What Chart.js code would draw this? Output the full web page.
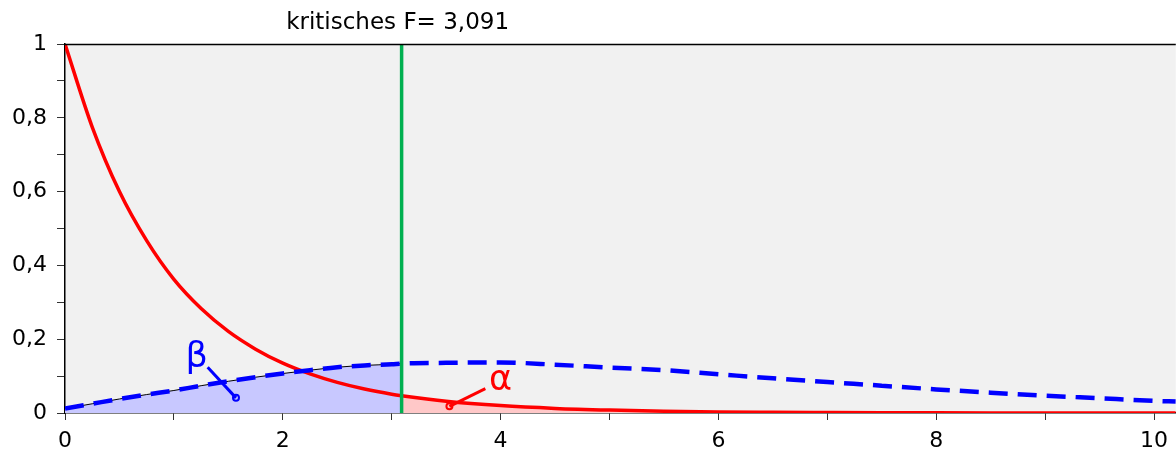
<!DOCTYPE html>
<html>
<head>
<meta charset="utf-8">
<script src="https://cdn.jsdelivr.net/npm/chart.js@4.4.1/dist/chart.umd.min.js"></script>
<style>
  html, body { margin: 0; padding: 0; background: #ffffff; }
  #wrap { width: 1176px; height: 450px; }
</style>
</head>
<body>
<div id="wrap"><canvas id="c" width="1176" height="450"></canvas></div>
<script>
// ---- data ----
const xValues   = [0, 0.25, 0.5, 0.75, 1, 1.25, 1.5, 1.75, 2, 2.25, 2.5, 2.75, 3, 3.091, 3.5, 4, 4.5, 5, 5.5, 6, 6.5, 7, 7.5, 8, 8.5, 9, 9.5, 10, 10.2];
const redValues = [1, 0.775, 0.600, 0.467, 0.362, 0.283, 0.221, 0.173, 0.135, 0.106, 0.083, 0.065, 0.051, 0.047, 0.032, 0.020, 0.0125, 0.008, 0.005, 0.003, 0.002, 0.0013, 0.0008, 0.0005, 0.0003, 0.0002, 0.0001, 0.0001, 0.0001];
const blueValues = [0.012, 0.025, 0.038, 0.050, 0.061, 0.074, 0.086, 0.097, 0.107, 0.116, 0.124, 0.129, 0.132, 0.134, 0.136, 0.137, 0.131, 0.123, 0.116, 0.105, 0.094, 0.084, 0.074, 0.064, 0.055, 0.047, 0.040, 0.033, 0.031];
const criticalF = 3.091;
const criticalLabel = 'kritisches F= 3,091';
const xTickValues = [0, 2, 4, 6, 8, 10];
const yTickValues = [0, 0.2, 0.4, 0.6, 0.8, 1];
const labelNotes = [
  { text: 'β', color: '#0000ff', x: 1.21, y: 0.150, lx1: 1.31, ly1: 0.124, lx2: 1.57, ly2: 0.041 },
  { text: 'α', color: '#ff0000', x: 4.00, y: 0.086, lx1: 3.86, ly1: 0.066, lx2: 3.53, ly2: 0.018 }
];

// ---- build series ----
const redPts  = xValues.map((x, i) => ({ x: x, y: redValues[i] }));
const bluePts = xValues.map((x, i) => ({ x: x, y: blueValues[i] }));
const blueArea = bluePts.filter(p => p.x <= criticalF);
const redArea  = redPts.filter(p => p.x >= criticalF);
const critLine = [{ x: criticalF, y: 0 }, { x: criticalF, y: 1 }];

const FONT = '"DejaVu Sans", sans-serif';

function fmt(v) {
  const r = Math.round(v * 10) / 10;
  if (r === 0) return '0';
  if (r === 1) return '1';
  return r.toFixed(1).replace('.', ',');
}

const bgPlugin = {
  id: 'bg',
  beforeDraw(chart) {
    const { ctx, chartArea: a } = chart;
    ctx.save();
    ctx.fillStyle = '#f1f1f1';
    ctx.fillRect(a.left, a.top, a.right - a.left, a.bottom - a.top);
    ctx.restore();
  },
  afterDraw(chart) {
    const { ctx, chartArea: a, scales } = chart;
    ctx.save();
    // top border
    ctx.strokeStyle = '#000';
    ctx.lineWidth = 1.5;
    ctx.beginPath();
    ctx.moveTo(a.left, a.top + 0.5);
    ctx.lineTo(a.right, a.top + 0.5);
    ctx.stroke();
    // title above critical line
    ctx.fillStyle = '#000';
    ctx.font = '23px ' + FONT;
    ctx.textAlign = 'center';
    ctx.textBaseline = 'alphabetic';
    ctx.fillText(criticalLabel, scales.x.getPixelForValue(criticalF) - 4, 29);
    // greek labels with leaders
    labelNotes.forEach(n => {
      const px = scales.x.getPixelForValue(n.x), py = scales.y.getPixelForValue(n.y);
      ctx.fillStyle = n.color;
      ctx.font = '35px ' + FONT;
      ctx.textAlign = 'center';
      ctx.textBaseline = 'middle';
      ctx.fillText(n.text, px, py);
      const x1 = scales.x.getPixelForValue(n.lx1), y1 = scales.y.getPixelForValue(n.ly1);
      const x2 = scales.x.getPixelForValue(n.lx2), y2 = scales.y.getPixelForValue(n.ly2);
      ctx.strokeStyle = n.color;
      ctx.lineWidth = 3;
      ctx.beginPath();
      ctx.moveTo(x1, y1);
      ctx.lineTo(x2, y2);
      ctx.stroke();
      ctx.beginPath();
      ctx.arc(x2, y2, 3, 0, Math.PI * 2);
      ctx.lineWidth = 2;
      ctx.stroke();
    });
    ctx.restore();
  }
};

new Chart(document.getElementById('c'), {
  type: 'line',
  data: {
    datasets: [
      { data: blueArea, fill: 'origin', backgroundColor: '#c8c8ff', borderColor: '#000', borderWidth: 1,
        pointRadius: 0, cubicInterpolationMode: 'monotone', order: 6 },
      { data: redArea, fill: 'origin', backgroundColor: '#ffc8c8', borderColor: 'rgba(0,0,0,0)', borderWidth: 0,
        pointRadius: 0, cubicInterpolationMode: 'monotone', order: 5 },
      { data: redPts, fill: false, borderColor: '#ff0000', borderWidth: 3.5,
        pointRadius: 0, cubicInterpolationMode: 'monotone', order: 4 },
      { data: bluePts, fill: false, borderColor: '#0000ff', borderWidth: 4.5, borderDash: [19, 10],
        borderCapStyle: 'butt', pointRadius: 0, cubicInterpolationMode: 'monotone', order: 3 },
      { data: critLine, fill: false, borderColor: '#00b050', borderWidth: 3.5, pointRadius: 0, order: 1 }
    ]
  },
  options: {
    responsive: false,
    animation: false,
    devicePixelRatio: 1,
    layout: { padding: { top: 44, right: 0, left: 0, bottom: 0 } },
    plugins: { legend: { display: false }, tooltip: { enabled: false }, title: { display: false } },
    scales: {
      x: {
        type: 'linear', min: 0, max: 10.2,
        afterFit(s) { s.height = 37; },
        ticks: {
          stepSize: 1, includeBounds: false, autoSkip: false, maxRotation: 0, padding: 8,
          color: '#000', font: { family: FONT, size: 22 },
          callback: v => (xTickValues.includes(v) ? String(v) : '')
        },
        grid: { display: true, drawOnChartArea: false, drawTicks: true, tickLength: 7, tickColor: '#333', tickWidth: 1 },
        border: { display: true, color: '#000', width: 1.5 }
      },
      y: {
        min: 0, max: 1,
        afterFit(s) { s.width = 65; },
        ticks: {
          stepSize: 0.1, autoSkip: false, padding: 10,
          color: '#000', font: { family: FONT, size: 22 },
          callback: v => (yTickValues.some(t => Math.abs(t - v) < 1e-6) ? fmt(v) : '')
        },
        grid: { display: true, drawOnChartArea: false, drawTicks: true, tickLength: 8, tickColor: '#333', tickWidth: 1 },
        border: { display: true, color: '#000', width: 1.5 }
      }
    }
  },
  plugins: [bgPlugin]
});
</script>
</body>
</html>
